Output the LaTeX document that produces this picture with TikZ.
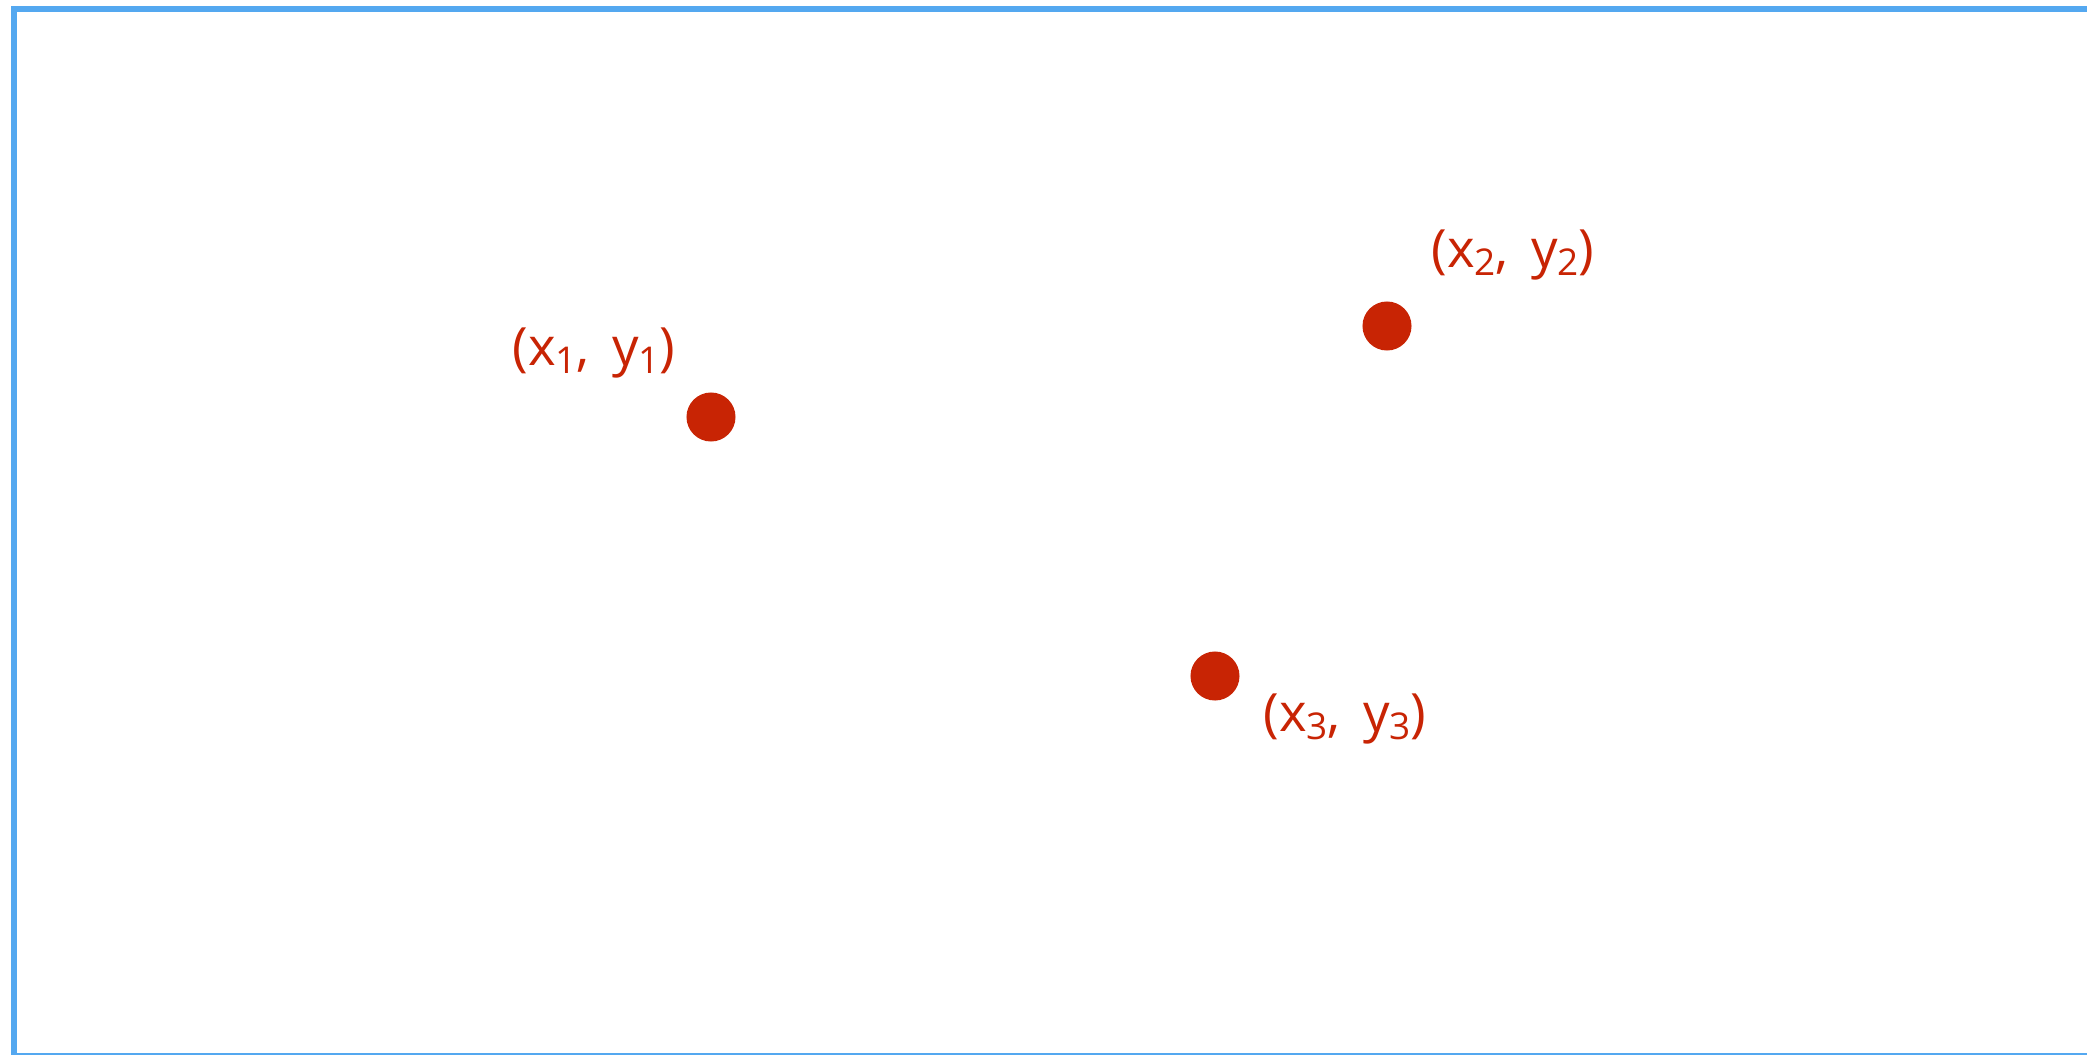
\documentclass[tikz,border=0pt]{standalone}
\usepackage{fontspec}
\setmainfont{Open Sans}
\definecolor{ptred}{RGB}{200,36,4}
\definecolor{frameblue}{RGB}{84,168,240}
\newcommand{\lowidx}[1]{\raisebox{-2.3pt}{\fontsize{10.5}{12}\selectfont #1}}

\begin{document}
\begin{tikzpicture}[x=0.01cm, y=-0.01cm,
    pt/.style={circle, fill=ptred, inner sep=0pt, minimum size=0.49cm},
    lbl/.style={text=ptred, font=\fontsize{15}{18}\selectfont, inner sep=0pt}]
    \useasboundingbox (0,0) rectangle (2087,1054);
    \clip (0,0) rectangle (2087,1054);
    \draw[frameblue, line width=1.8pt] (14,9) rectangle (2120,1056);
    % points
    \node[pt] (p1) at (711,417) {};
    \node[pt] (p2) at (1387,326) {};
    \node[pt] (p3) at (1215,676) {};
    % labels
    \node[lbl] (l1) at (594,353) {(x\lowidx{1}, \,y\lowidx{1})};
    \node[lbl] (l2) at (1513,255) {(x\lowidx{2}, \,y\lowidx{2})};
    \node[lbl] (l3) at (1345,719) {(x\lowidx{3}, \,y\lowidx{3})};
\end{tikzpicture}
\end{document}
